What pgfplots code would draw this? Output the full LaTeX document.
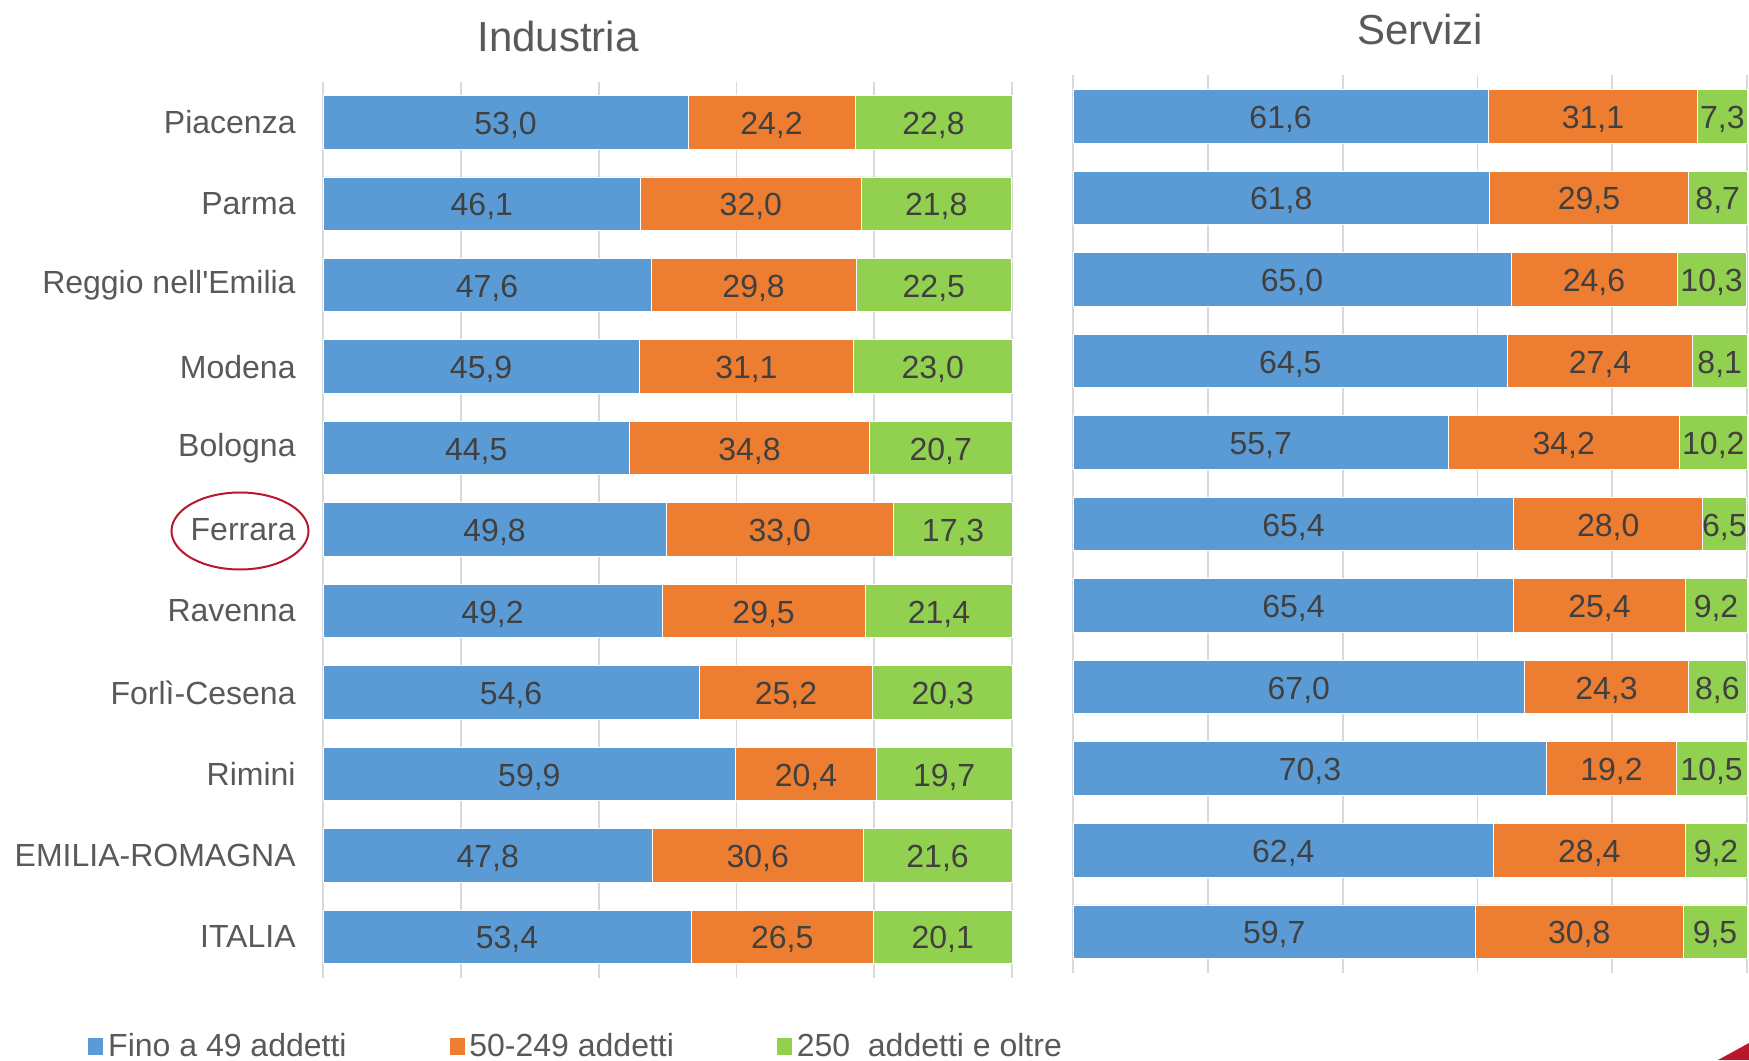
\documentclass[border=0pt]{standalone}
\usepackage{pgfplots}
\pgfplotsset{compat=1.18}
\usepackage{pgfplotstable}
\usepackage{fontspec}
\setmainfont{Liberation Sans}
\definecolor{cblue}{HTML}{5B9BD5}
\definecolor{corange}{HTML}{ED7D31}
\definecolor{cgreen}{HTML}{92D050}
\definecolor{ctext}{HTML}{595959}
\definecolor{cnum}{HTML}{404040}
\definecolor{cgrid}{HTML}{D9D9D9}
\definecolor{cred}{HTML}{B8172D}

\pgfplotstableread{
i a b c
0 53.0 24.2 22.8
1 46.1 32.0 21.8
2 47.6 29.8 22.5
3 45.9 31.1 23.0
4 44.5 34.8 20.7
5 49.8 33.0 17.3
6 49.2 29.5 21.4
7 54.6 25.2 20.3
8 59.9 20.4 19.7
9 47.8 30.6 21.6
10 53.4 26.5 20.1
}\industria

\pgfplotstableread{
i a b c
0 61.6 31.1 7.3
1 61.8 29.5 8.7
2 65.0 24.6 10.3
3 64.5 27.4 8.1
4 55.7 34.2 10.2
5 65.4 28.0 6.5
6 65.4 25.4 9.2
7 67.0 24.3 8.6
8 70.3 19.2 10.5
9 62.4 28.4 9.2
10 59.7 30.8 9.5
}\servizi

\newcommand{\lbl}{\fontsize{16}{19}\selectfont}

\pgfplotsset{
  panel/.style={
    xbar stacked,
    scale only axis,
    xmin=0, xmax=100,
    ymin=-0.5, ymax=10.5,
    y dir=reverse,
    enlargelimits=false,
    bar width=0.656,
    xtick={0,20,...,100},
    xticklabels={},
    xmajorgrids,
    grid style={cgrid, line width=0.9pt},
    axis line style={draw=none},
    major tick length=0pt,
    ytick={0,...,10},
    point meta=explicit,
    nodes near coords={\pgfmathprintnumber[fixed,fixed zerofill,precision=1,use comma,assume math mode=true]{\pgfplotspointmeta}},
    nodes near coords style={font=\lbl, text=cnum, anchor=center, yshift=-1.5pt},
    clip=false,
  },
}

\begin{document}
\begin{tikzpicture}
\useasboundingbox (0,0) rectangle (874.5pt,530pt);

\begin{axis}[panel,
  at={(161.5pt,489.25pt)}, anchor=north west,
  width=344.5pt, height=448pt,
  yticklabels={Piacenza,Parma,Reggio nell\textquotesingle Emilia,Modena,Bologna,Ferrara,Ravenna,Forlì-Cesena,Rimini,EMILIA-ROMAGNA,ITALIA},
  yticklabel style={font=\lbl, text=ctext, anchor=east, inner sep=0pt, xshift=-13.5pt},
  legend columns=3,
  legend style={at={(axis description cs:-0.3425,-0.0765)}, anchor=west, draw=none, fill=none,
    font=\lbl, text=ctext, inner sep=0pt, nodes={inner sep=2pt},
    /tikz/every even column/.append style={column sep=49pt}},
  legend image code/.code={\fill[#1] (0pt,-4.5pt) rectangle (8pt,4.5pt);},
]
\addplot[fill=cblue, draw=white, line width=0.4pt] table[x=a, y=i, meta=a]{\industria};
\addlegendentry{Fino a 49 addetti}
\addplot[fill=corange, draw=white, line width=0.4pt] table[x=b, y=i, meta=b]{\industria};
\addlegendentry{50-249 addetti}
\addplot[fill=cgreen, draw=white, line width=0.4pt] table[x=c, y=i, meta=c]{\industria};
\addlegendentry{250\ \ addetti e oltre}
\end{axis}

\begin{axis}[panel,
  at={(536.5pt,492.25pt)}, anchor=north west,
  width=337pt, height=448.5pt,
  yticklabels={},
]
\addplot[fill=cblue, draw=white, line width=0.4pt] table[x=a, y=i, meta=a]{\servizi};
\addplot[fill=corange, draw=white, line width=0.4pt] table[x=b, y=i, meta=b]{\servizi};
\addplot[fill=cgreen, draw=white, line width=0.4pt] table[x=c, y=i, meta=c]{\servizi};
\end{axis}

\node[anchor=base, font=\fontsize{21}{25}\selectfont, text=ctext] at (279pt,504pt) {Industria};
\node[anchor=base, font=\fontsize{21}{25}\selectfont, text=ctext] at (710pt,507.5pt) {Servizi};

\draw[cred, line width=1pt] (120pt,264.5pt) ellipse (34.25pt and 19.25pt);
\fill[cred] (859pt,0pt) -- (874.5pt,0pt) -- (874.5pt,8.5pt) -- cycle;
\end{tikzpicture}
\end{document}
